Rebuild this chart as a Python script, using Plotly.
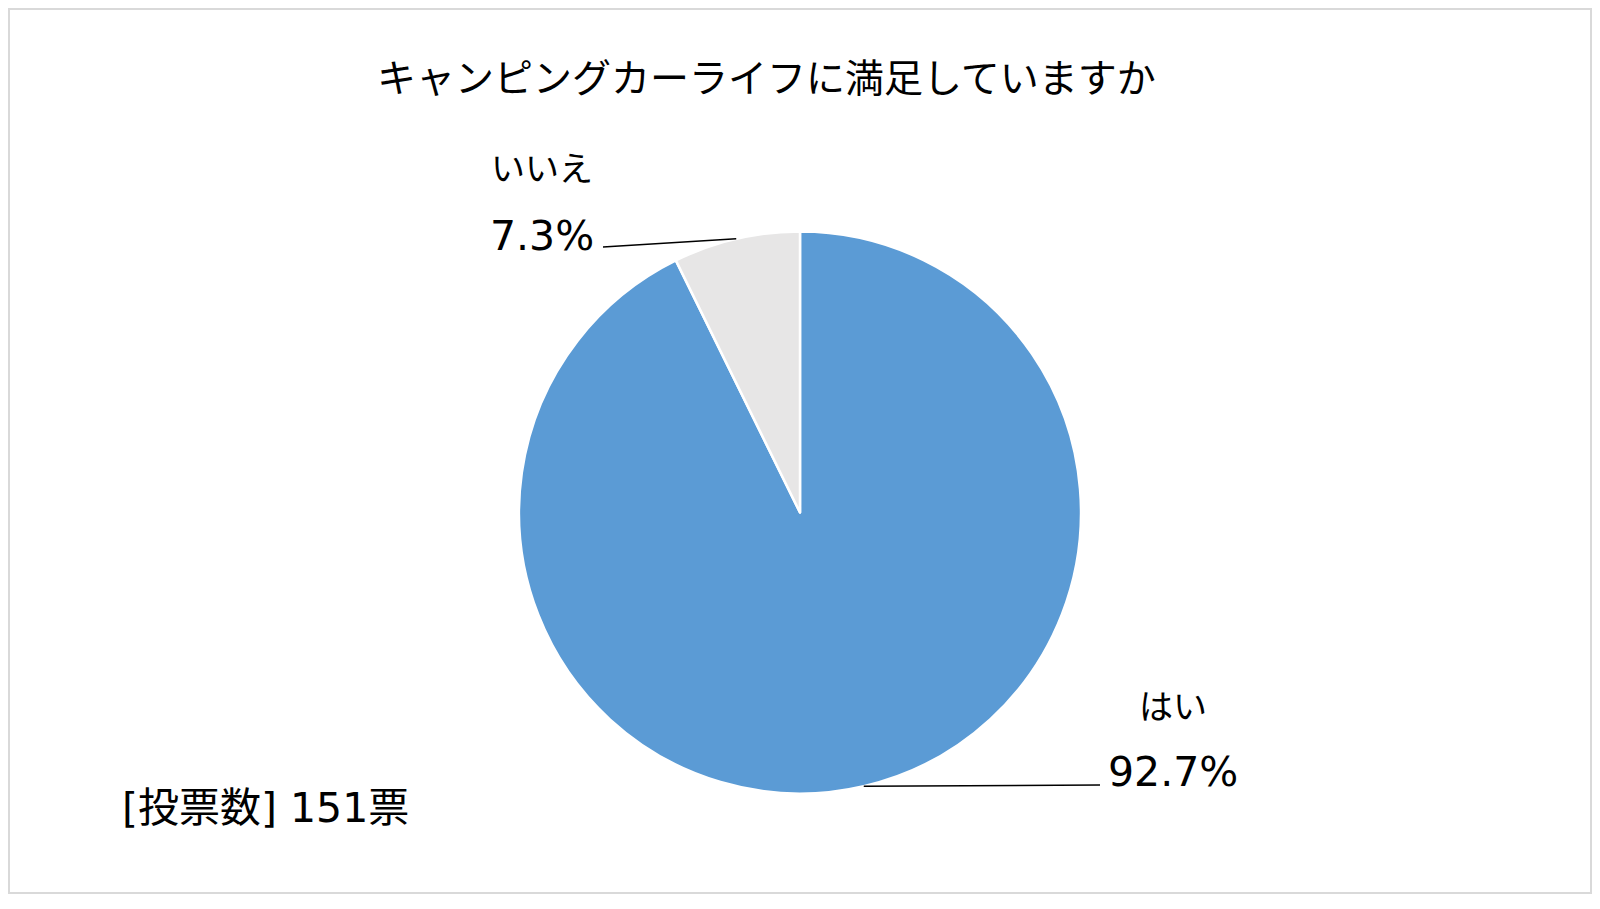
import math
import plotly.graph_objects as go

# ---- data ----
title_text = "キャンピングカーライフに満足していますか"
categories = ["はい", "いいえ"]
votes = [140, 11]
pct_labels = ["92.7%", "7.3%"]
colors = ["#5B9BD5", "#E7E6E6"]
note_text = "[投票数] 151票"

# ---- layout constants (pixels) ----
W, H = 1600, 909
CX, CY, R = 800, 512.5, 281          # pie centre / radius
label_centres = {"はい": (1173, 704, 772), "いいえ": (542, 166, 236)}  # cx, name_y, pct_y
line_ends = {"はい": (1100, 785), "いいえ": (603, 247)}


def px(x):
    return x / W


def py(y):
    return 1 - y / H


fig = go.Figure()
fig.add_trace(go.Pie(
    labels=categories,
    values=votes,
    sort=False,
    direction="clockwise",
    rotation=0,
    marker=dict(colors=colors, line=dict(color="white", width=2.5)),
    textinfo="none",
    hoverinfo="label+percent",
    showlegend=False,
    domain=dict(x=[px(CX - R), px(CX + R)], y=[py(CY + R), py(CY - R)]),
))

shapes = []
annotations = []

# leader lines from mid-angle of each slice
total = sum(votes)
cum = 0
for cat, v in zip(categories, votes):
    mid = (cum + v / 2) / total * 2 * math.pi
    cum += v
    sx = CX + R * math.sin(mid)
    sy = CY - R * math.cos(mid)
    ex, ey = line_ends[cat]
    shapes.append(dict(type="line", xref="paper", yref="paper",
                       x0=px(sx), y0=py(sy), x1=px(ex), y1=py(ey),
                       line=dict(color="black", width=1.5)))

for cat, pct in zip(categories, pct_labels):
    cx, ny, pyy = label_centres[cat]
    annotations.append(dict(text=cat, x=px(cx), y=py(ny), xref="paper", yref="paper",
                            showarrow=False, xanchor="center", yanchor="middle",
                            font=dict(family="Noto Sans CJK JP", size=34, color="black")))
    annotations.append(dict(text=pct, x=px(cx), y=py(pyy), xref="paper", yref="paper",
                            showarrow=False, xanchor="center", yanchor="middle",
                            font=dict(family="DejaVu Sans", size=41, color="black")))

# title
annotations.append(dict(text=title_text, x=px(766), y=py(75), xref="paper", yref="paper",
                        showarrow=False, xanchor="center", yanchor="middle",
                        font=dict(family="Noto Sans CJK JP", size=39, color="black")))
# vote count note
annotations.append(dict(text=note_text, x=px(120), y=py(808), xref="paper", yref="paper",
                        showarrow=False, xanchor="left", yanchor="middle",
                        font=dict(family="DejaVu Sans, Noto Sans CJK JP", size=41, color="black")))

# chart border
shapes.append(dict(type="rect", xref="paper", yref="paper",
                   x0=px(9), y0=py(893), x1=px(1591), y1=py(9),
                   line=dict(color="#D9D9D9", width=2), fillcolor="rgba(0,0,0,0)"))

fig.update_layout(
    width=W, height=H,
    margin=dict(l=0, r=0, t=0, b=0),
    paper_bgcolor="white",
    plot_bgcolor="white",
    shapes=shapes,
    annotations=annotations,
)

fig.write_html("out.html", config={"displayModeBar": False},
               post_script="document.body.style.margin='0';document.body.style.overflow='hidden';")
